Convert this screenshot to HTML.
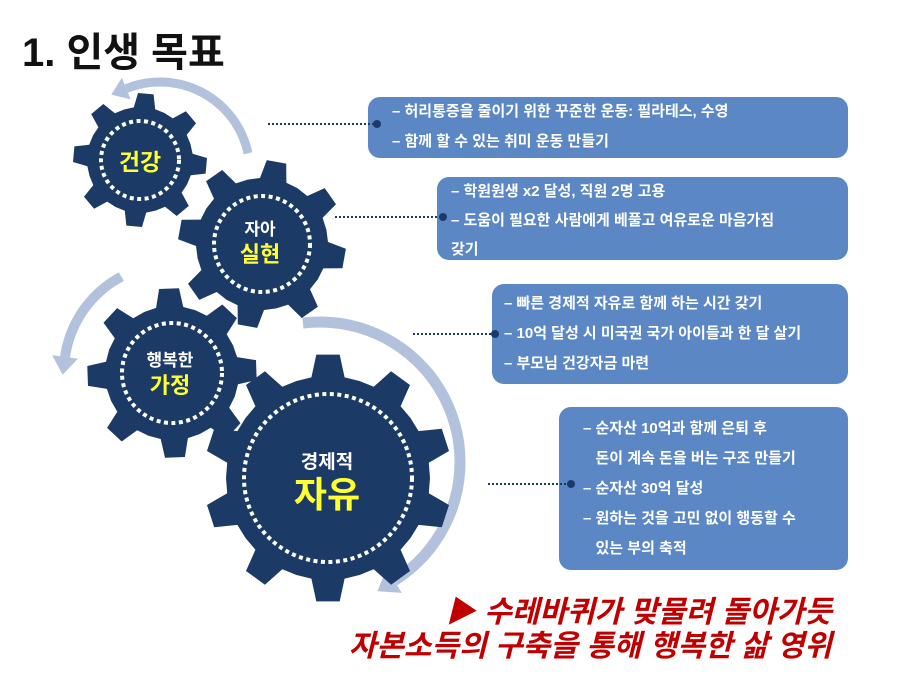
<!DOCTYPE html>
<html><head><meta charset="utf-8"><style>
body{margin:0;background:#fff;width:912px;height:684px;overflow:hidden;position:relative;font-family:"Liberation Sans","Noto Sans CJK KR",sans-serif}
.t{position:absolute;left:22px;top:20px;font-size:40px;color:#111;font-weight:bold}
.b{position:absolute;background:#5b87c5;border-radius:12px;color:#fff;font-size:15px;font-weight:bold;box-sizing:border-box;line-height:30px}
.r{position:absolute;right:80px;color:#c00000;font-size:30px;font-weight:bold;font-style:italic;white-space:nowrap}
svg{position:absolute;left:0;top:0}
</style></head><body>
<div class="t">1. 인생 목표</div>
<svg id="s" width="912" height="684" viewBox="0 0 912 684"></svg>
<div class="b" style="left:368px;top:97px;width:480px;height:61px;padding:0 0 0 24px;line-height:30px">– 허리통증을 줄이기 위한 꾸준한 운동: 필라테스, 수영<br>– 함께 할 수 있는 취미 운동 만들기</div>
<div class="b" style="left:437px;top:177px;width:411px;height:83px;padding:0 0 0 14px;line-height:29px">– 학원원생 x2 달성, 직원 2명 고용<br>– 도움이 필요한 사람에게 베풀고 여유로운 마음가짐<br>갖기</div>
<div class="b" style="left:492px;top:284px;width:356px;height:100px;padding:5px 0 0 12px">– 빠른 경제적 자유로 함께 하는 시간 갖기<br>– 10억 달성 시 미국권 국가 아이들과 한 달 살기<br>– 부모님 건강자금 마련</div>
<div class="b" style="left:559px;top:407px;width:289px;height:163px;padding:7px 0 0 24px">– 순자산 10억과 함께 은퇴 후<br>&nbsp;&nbsp;&nbsp;돈이 계속 돈을 버는 구조 만들기<br>– 순자산 30억 달성<br>– 원하는 것을 고민 없이 행동할 수<br>&nbsp;&nbsp;&nbsp;있는 부의 축적</div>
<div class="r" style="top:587px">▶ 수레바퀴가 맞물려 돌아가듯</div>
<div class="r" style="top:621px">자본소득의 구축을 통해 행복한 삶 영위</div>
<svg id="d" width="912" height="684" viewBox="0 0 912 684"></svg>
<script>
var s=document.getElementById('s'),h='';
var ac='#b3c2dc';
function arc(cx,cy,r,a0,a1,sw){var p=[];var n=40;for(var i=0;i<=n;i++){var a=(a0+(a1-a0)*i/n)*Math.PI/180;p.push((cx+r*Math.cos(a)).toFixed(1)+','+(cy+r*Math.sin(a)).toFixed(1));}
h+='<polyline points="'+p.join(' ')+'" fill="none" stroke="'+ac+'" stroke-width="'+sw+'"/>';
var a=a1*Math.PI/180,d=(a1>a0?1:-1);var ex=cx+r*Math.cos(a),ey=cy+r*Math.sin(a);
var tx=-Math.sin(a)*d,ty=Math.cos(a)*d;var nx=Math.cos(a),ny=Math.sin(a);var L=sw*1.8,W=sw*1.3;
h+='<polygon points="'+(ex+tx*L)+','+(ey+ty*L)+' '+(ex+nx*W)+','+(ey+ny*W)+' '+(ex-nx*W)+','+(ey-ny*W)+'" fill="'+ac+'"/>';}
arc(160,172,90,-12,-112,9);
arc(172,372,108,-118,-172,10);
arc(320,462,140,-97,58,11);
function gear(cx,cy,R,r,n,rot,dr){var p=[];for(var i=0;i<n;i++){var b=rot+i*360/n,st=360/n;
var pts=[[r,b-st*0.5],[r,b-st*0.26],[R,b-st*0.15],[R,b+st*0.15],[r,b+st*0.26]];
pts.forEach(function(q){var a=q[1]*Math.PI/180;p.push((cx+q[0]*Math.cos(a)).toFixed(1)+','+(cy+q[0]*Math.sin(a)).toFixed(1));});}
h+='<polygon points="'+p.join(' ')+'" fill="#1b3a66"/>';
h+='<circle cx="'+cx+'" cy="'+cy+'" r="'+dr+'" fill="none" stroke="#fff" stroke-width="4" stroke-dasharray="4 3.5"/>';}
gear(140,160,67,53,8,-85,39);
gear(262,244,84,66,8,-80,48);
gear(172,373,85,67,8,-92,50);
gear(328,478,124,102,10,-90,84);
function tx(x,y,t,sz,c){h+='<text x="'+x+'" y="'+y+'" font-size="'+sz+'" fill="'+c+'" font-weight="bold" text-anchor="middle" font-family="Liberation Sans,Noto Sans CJK KR,sans-serif">'+t+'</text>';}
tx(140,170,'건강',23,'#ffff33');
tx(260,235,'자아',17,'#fff');tx(260,262,'실현',22,'#ffff33');
tx(170,366,'행복한',17,'#fff');tx(170,393,'가정',22,'#ffff33');
tx(327,468,'경제적',19,'#fff');tx(327,507,'자유',36,'#ffff33');
s.innerHTML=h;h='';
function dl(x1,x2,y){h+='<line x1="'+x1+'" y1="'+y+'" x2="'+x2+'" y2="'+y+'" stroke="#1b3a66" stroke-width="2" stroke-dasharray="2 2"/><circle cx="'+x2+'" cy="'+y+'" r="4" fill="#1b3a66"/>';}
dl(268,377,124);dl(335,443,217);dl(413,495,334);dl(488,571,484);
document.getElementById('d').innerHTML=h;
</script>
</body></html>
